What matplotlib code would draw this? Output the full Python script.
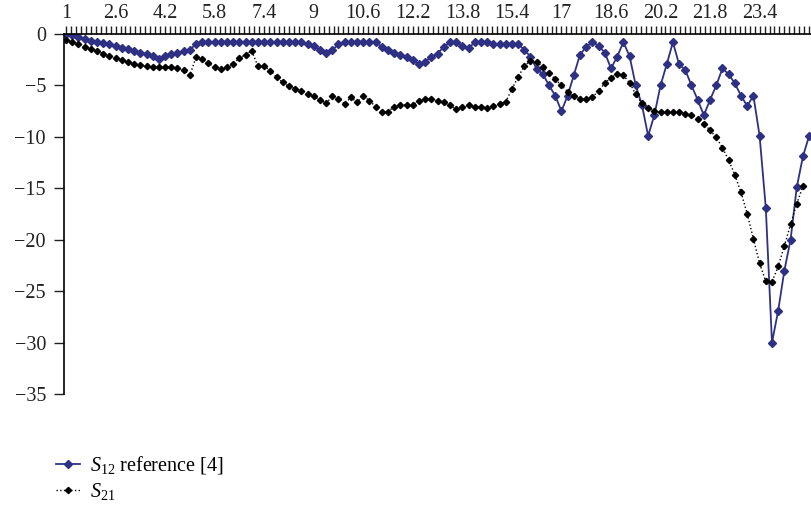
import numpy as np
import matplotlib
matplotlib.use('Agg')
from matplotlib import pyplot as plt
from matplotlib.ticker import FixedLocator

plt.rcParams['font.family'] = ['Liberation Serif', 'DejaVu Serif']
plt.rcParams['mathtext.fontset'] = 'custom'
plt.rcParams['mathtext.rm'] = 'Liberation Serif'
plt.rcParams['mathtext.it'] = 'Liberation Serif:italic'

# frequency steps (0.2 apart)
freq = np.round(1 + 0.2 * np.arange(121), 1)

s12 = [0, -0.1, -0.25, -0.45, -0.65, -0.75, -0.85, -1.0, -1.15, -1.35,
       -1.5, -1.7, -1.8, -1.95, -2.15, -2.45, -2.15, -1.95, -1.8, -1.7,
       -1.55, -0.95, -0.8, -0.8, -0.8, -0.8, -0.8, -0.8, -0.8, -0.8,
       -0.8, -0.8, -0.8, -0.8, -0.8, -0.8, -0.8, -0.8, -0.8, -1.0,
       -1.2, -1.55, -1.8, -1.55, -1.0, -0.8, -0.8, -0.8, -0.8, -0.8,
       -0.8, -1.25, -1.55, -1.8, -2.0, -2.2, -2.5, -2.95, -2.7, -2.2,
       -1.9, -1.25, -0.8, -0.8, -1.15, -1.4, -0.8, -0.8, -0.8, -0.97,
       -0.97, -0.97, -0.97, -0.97, -1.55, -2.2, -3.4, -3.9, -5.0, -6.0,
       -7.5, -6.0, -4.0, -2.0, -1.25, -0.8, -1.15, -1.8, -3.35, -2.2,
       -0.8, -2.15, -5.0, -6.9, -9.9, -7.9, -5.0, -2.95, -0.8, -2.95,
       -3.5, -5.0, -6.4, -7.9, -6.4, -5.0, -3.35, -3.9, -4.8, -6.0,
       -7.0, -6.0, -9.9, -16.9, -30.0, -26.9, -23.0, -20.0, -14.9, -11.9,
       -9.9]

s21 = [-0.6, -0.8, -1.0, -1.25, -1.45, -1.65, -1.9, -2.15, -2.35, -2.55,
       -2.75, -2.9, -3.0, -3.15, -3.25, -3.25, -3.25, -3.25, -3.35, -3.5,
       -4.0, -2.25, -2.45, -2.85, -3.25, -3.4, -3.25, -2.9, -2.35, -2.0,
       -1.65, -3.15, -3.15, -3.55, -4.2, -4.7, -5.1, -5.3, -5.5, -5.85,
       -6.05, -6.4, -6.75, -6.05, -6.3, -6.8, -6.15, -6.65, -6.0, -6.5,
       -7.05, -7.55, -7.55, -7.05, -6.9, -6.9, -6.9, -6.5, -6.35, -6.35,
       -6.5, -6.65, -6.95, -7.3, -7.05, -6.95, -7.05, -7.05, -7.2, -7.0,
       -6.8, -6.6, -5.35, -4.2, -3.1, -2.6, -2.7, -3.25, -3.8, -4.4,
       -5.0, -5.6, -6.0, -6.3, -6.35, -6.15, -5.5, -4.8, -4.25, -3.9,
       -4.0, -4.75, -5.85, -6.75, -7.15, -7.5, -7.6, -7.6, -7.6, -7.6,
       -7.75, -7.9, -8.25, -8.75, -9.35, -10.05, -11.05, -12.25, -13.7, -15.4,
       -17.5, -19.9, -22.3, -24.05, -24.1, -22.6, -20.6, -18.5, -16.5, -14.8]

xlabels = ['1', '2.6', '4.2', '5.8', '7.4', '9', '10.6', '12.2', '13.8',
           '15.4', '17', '18.6', '20.2', '21.8', '23.4']
yticks = [0, -5, -10, -15, -20, -25, -30, -35]

fig = plt.figure(figsize=(8.11, 5.09), dpi=100)
ax = fig.add_axes([64 / 811, 1 - 394 / 509, 1 - 64 / 811, 360 / 509])

ax.plot(freq, s12, color='#2E3183', lw=1.3, marker='D', ms=4.5,
        label=r'$S_{12}$ reference [4]')
ax.plot(freq[:len(s21)], s21, color='black', lw=1, ls=':', marker='D', ms=3.2,
        label=r'$S_{21}$')

ax.set_xlim(0.935, 25.06)
ax.set_ylim(-35, 0)

for side in ['bottom', 'right']:
    ax.spines[side].set_visible(False)
ax.spines['top'].set_linewidth(1.2)
ax.spines['left'].set_linewidth(1.2)

ax.xaxis.tick_top()
ax.set_xticks([float(v) for v in xlabels])
ax.set_xticklabels(xlabels)
ax.xaxis.set_minor_locator(FixedLocator(np.arange(1, 25.1, 0.16)))
ax.tick_params(axis='x', which='both', direction='out', length=6, width=1,
               labelsize=14.5, pad=2, colors='#222222')
ax.set_yticks(yticks)
ax.set_yticklabels(['0' if v == 0 else '\u2212%d' % -v for v in yticks])
ax.tick_params(axis='y', direction='out', length=7, width=1,
               labelsize=14.5, pad=6, colors='#222222')

fig.legend(loc='upper left', bbox_to_anchor=(38 / 811, 1 - 436 / 509),
           frameon=False, fontsize=14.5, handlelength=1.2,
           handletextpad=0.5, labelspacing=0.25)

plt.savefig('out.png', dpi=100)
